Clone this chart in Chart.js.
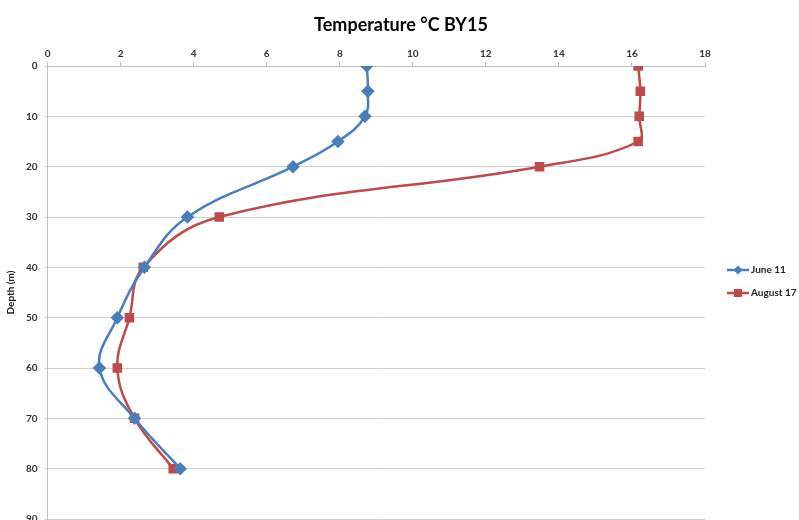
<!DOCTYPE html>
<html>
<head>
  <title>Temperature BY15</title>
  <style>
    html, body { margin: 0; padding: 0; background: #fff; overflow: hidden; }
    #wrap { width: 799px; height: 540px; position: relative; }
  </style>
</head>
<body>
  <div id="wrap"><canvas id="chart"></canvas></div>

  <script src="https://cdn.jsdelivr.net/npm/chart.js"></script>
  <script>
    const depths = [0, 5, 10, 15, 20, 30, 40, 50, 60, 70, 80];
    const june11 = [8.74, 8.77, 8.69, 7.95, 6.72, 3.83, 2.65, 1.91, 1.42, 2.38, 3.63];
    const aug17 = [16.17, 16.23, 16.2, 16.17, 13.47, 4.7, 2.62, 2.24, 1.91, 2.38, 3.44];
    const seriesNames = ['June 11', 'August 17'];
    const seriesColors = ['#4a7ebb', '#be4b48'];
    const markers = ['rectRot', 'rect'];
    const chartTitle = 'Temperature °C BY15';

    const toPoints = vals => vals.map((v, i) => ({ x: v, y: depths[i] }));
    const tickFont = { family: 'Lato', size: 10, weight: 'bold' };

    // title centred on the whole canvas + legend with line and marker
    const sideLegend = {
      id: 'sideLegend',
      afterDraw(chart) {
        const ctx = chart.ctx;
        ctx.save();
        ctx.fillStyle = '#000';
        ctx.font = 'bold 18px Lato';
        ctx.textAlign = 'center';
        ctx.textBaseline = 'middle';
        ctx.fillText(chartTitle, 401, 25);
        ctx.textAlign = 'left';
        chart.data.datasets.forEach((ds, i) => {
          const y = 270 + i * 23;
          ctx.strokeStyle = ds.borderColor;
          ctx.lineWidth = 2.5;
          ctx.beginPath();
          ctx.moveTo(727, y);
          ctx.lineTo(749, y);
          ctx.stroke();
          ctx.fillStyle = ds.borderColor;
          if (ds.pointStyle === 'rect') {
            ctx.fillRect(734, y - 4, 8, 8);
          } else {
            ctx.beginPath();
            ctx.moveTo(738, y - 4.5);
            ctx.lineTo(742.5, y);
            ctx.lineTo(738, y + 4.5);
            ctx.lineTo(733.5, y);
            ctx.closePath();
            ctx.fill();
          }
          ctx.fillStyle = '#222';
          ctx.font = 'bold 10px Lato';
          ctx.fillText(ds.label, 751, y);
        });
        ctx.restore();
      }
    };

    new Chart(document.getElementById('chart'), {
      type: 'scatter',
      data: {
        datasets: seriesNames.map((name, i) => ({
          label: name,
          data: toPoints(i === 0 ? june11 : aug17),
          showLine: true,
          tension: 0.4,
          borderColor: seriesColors[i],
          backgroundColor: seriesColors[i],
          borderWidth: 2.5,
          pointStyle: markers[i],
          pointRadius: 5,
          pointHoverRadius: 5
        }))
      },
      options: {
        responsive: true,
        maintainAspectRatio: false,
        animation: false,
        layout: { padding: { left: 3, right: 94, top: 46, bottom: 21 } },
        plugins: {
          legend: { display: false },
          tooltip: { enabled: false },
          title: { display: false }
        },
        scales: {
          x: {
            type: 'linear',
            position: 'top',
            min: 0,
            max: 18,
            ticks: { stepSize: 2, color: '#333', font: tickFont, padding: 2 },
            grid: { drawOnChartArea: false, color: '#bfbfbf', tickLength: 4 },
            border: { color: '#bfbfbf' }
          },
          y: {
            type: 'linear',
            reverse: true,
            min: 0,
            max: 90,
            ticks: { stepSize: 10, color: '#333', font: tickFont, padding: 7 },
            grid: { color: '#d0d0d0', tickLength: 3 },
            border: { color: '#bfbfbf' },
            title: {
              display: true,
              text: 'Depth (m)',
              color: '#222',
              font: { family: 'Lato', size: 10, weight: 'bold' },
              padding: 2
            }
          }
        }
      },
      plugins: [sideLegend]
    });
  </script>
</body>
</html>
